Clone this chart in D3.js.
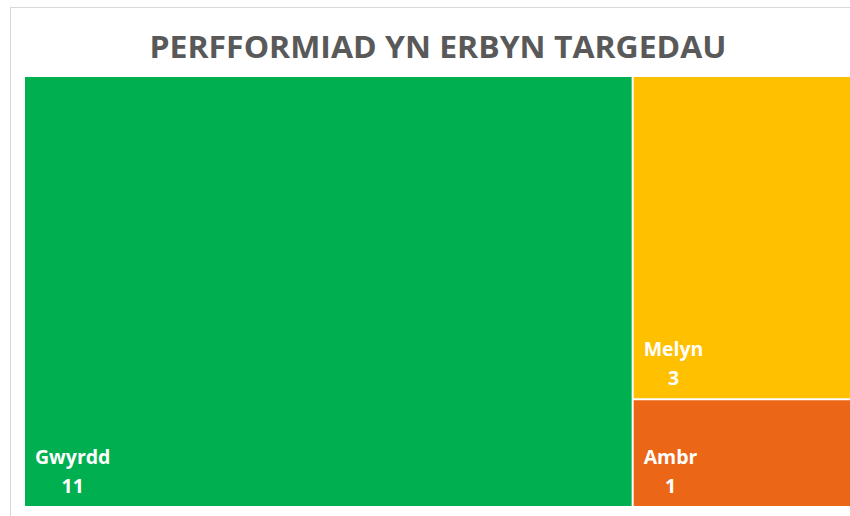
<!DOCTYPE html>
<html>
<head>
<meta charset="utf-8">
<script src="https://cdn.jsdelivr.net/npm/d3@7"></script>
<style>
  body { margin: 0; background: #fff; }
  svg { display: block; }
</style>
</head>
<body>
<div id="chart"></div>
<script>
// data
const categories = ["Gwyrdd", "Melyn", "Ambr"];
const values = [11, 3, 1];
const colours = ["#00B050", "#FFC000", "#EC6617"];
const title = "PERFFORMIAD YN ERBYN TARGEDAU";

const outerWidth = 850, outerHeight = 516;
const margin = { left: 25, top: 77, right: -3, bottom: 10 };
const innerWidth = outerWidth - margin.left - margin.right;
const innerHeight = outerHeight - margin.top - margin.bottom;

const svg = d3.select("#chart").append("svg")
  .attr("width", outerWidth)
  .attr("height", outerHeight);

// chart area border
svg.append("rect")
  .attr("x", 10.5).attr("y", 7.5)
  .attr("width", outerWidth).attr("height", outerHeight)
  .attr("fill", "none")
  .attr("stroke", "#d9d9d9");

svg.append("text")
  .attr("x", 438)
  .attr("y", 58)
  .attr("text-anchor", "middle")
  .attr("font-family", "Open Sans, sans-serif")
  .attr("font-weight", "bold")
  .attr("font-size", 31)
  .attr("fill", "#595959")
  .attr("textLength", 577)
  .attr("lengthAdjust", "spacingAndGlyphs")
  .text(title);

const root = d3.hierarchy({
    children: categories.map((c, i) => ({ name: c, value: values[i], colour: colours[i] }))
  })
  .sum(d => d.value || 0);

d3.treemap()
  .tile(d3.treemapBinary)
  .size([innerWidth, innerHeight])
  .paddingInner(2)(root);

const g = svg.append("g")
  .attr("transform", "translate(" + margin.left + "," + margin.top + ")");

const cell = g.selectAll("g.cell")
  .data(root.leaves())
  .join("g")
  .attr("class", "cell")
  .attr("transform", d => "translate(" + d.x0 + "," + d.y0 + ")");

cell.append("rect")
  .attr("width", d => d.x1 - d.x0)
  .attr("height", d => d.y1 - d.y0)
  .attr("fill", d => d.data.colour);

cell.each(function(d) {
  const h = d.y1 - d.y0;
  const sel = d3.select(this);
  const label = sel.append("text")
    .attr("x", 10)
    .attr("y", h - 42)
    .attr("font-family", "Open Sans, sans-serif")
    .attr("font-weight", "bold")
    .attr("font-size", 19.5)
    .attr("fill", "#fff")
    .text(d.data.name);
  const w = label.node().getComputedTextLength();
  sel.append("text")
    .attr("x", 10 + w / 2)
    .attr("y", h - 13)
    .attr("text-anchor", "middle")
    .attr("font-family", "Open Sans, sans-serif")
    .attr("font-weight", "bold")
    .attr("font-size", 19.5)
    .attr("fill", "#fff")
    .text(d.data.value);
});
</script>
</body>
</html>
